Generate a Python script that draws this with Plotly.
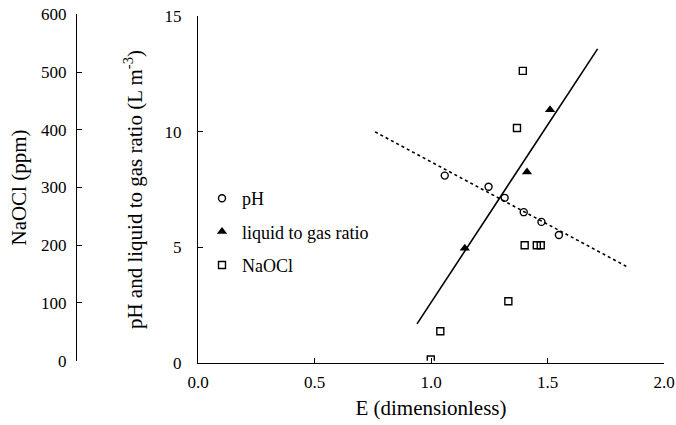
import plotly.graph_objects as go

# pH data
ph_E = [1.059, 1.247, 1.316, 1.398, 1.474, 1.549]
ph_val = [8.10, 7.62, 7.14, 6.52, 6.10, 5.53]

# liquid to gas ratio data
lg_E = [1.145, 1.412, 1.511]
lg_val = [4.96, 8.26, 10.95]

# NaOCl data (ppm)
na_E = [0.999, 1.040, 1.332, 1.394, 1.402, 1.454, 1.471, 1.369]
na_val = [2, 51, 103, 502, 200, 200, 200, 403]

# trend lines
lg_fit_E = [0.94, 1.715]
lg_fit_val = [1.69, 13.58]
ph_fit_E = [0.76, 1.847]
ph_fit_val = [9.99, 4.13]

W, H = 676, 425
FONT = "Liberation Serif, Times New Roman, serif"

fig = go.Figure()

fig.add_trace(go.Scatter(x=ph_fit_E, y=ph_fit_val, mode="lines",
                         line=dict(color="black", width=1.6, dash="dot"),
                         showlegend=False, hoverinfo="skip"))
fig.add_trace(go.Scatter(x=lg_fit_E, y=lg_fit_val, mode="lines",
                         line=dict(color="black", width=1.6),
                         showlegend=False, hoverinfo="skip"))

fig.add_trace(go.Scatter(x=ph_E, y=ph_val, mode="markers", name="pH",
                         legendgroup="a",
                         marker=dict(symbol="circle-open", size=7, color="black",
                                     line=dict(width=1.4, color="black"))))
fig.add_trace(go.Scatter(x=lg_E, y=lg_val, mode="markers", name="liquid to gas ratio",
                         legendgroup="b",
                         marker=dict(symbol="triangle-up", size=9, color="black")))
fig.add_trace(go.Scatter(x=na_E, y=na_val, mode="markers", name="NaOCl",
                         legendgroup="c", xaxis="x", yaxis="y2",
                         marker=dict(symbol="square-open", size=7, color="black",
                                     line=dict(width=1.4, color="black"))))


def axis_common():
    return dict(showline=True, linecolor="black", linewidth=1.4,
                ticks="inside", ticklen=5, tickcolor="black", tickwidth=1.2,
                showgrid=False, zeroline=False, automargin=False,
                tickfont=dict(family=FONT, size=17, color="black"))


fig.update_layout(
    width=W, height=H,
    margin=dict(l=0, r=0, t=0, b=0, autoexpand=False),
    paper_bgcolor="white", plot_bgcolor="rgba(0,0,0,0)",
    font=dict(family=FONT, color="black", size=17),
    xaxis=dict(domain=[198 / W, 664 / W], range=[0, 2],
               tickvals=[0, 0.5, 1.0, 1.5, 2.0], tickformat=".1f",
               ticklabelstandoff=3,
               title=dict(text="E (dimensionless)", font=dict(family=FONT, size=21),
                          standoff=9),
               anchor="y", **axis_common()),
    yaxis=dict(domain=[(H - 363) / H, (H - 16) / H], range=[0, 15],
               tickvals=[0, 5, 10, 15], ticklabelstandoff=12,
               title=dict(text="pH and liquid to gas ratio (L m<sup>-3</sup>)",
                          font=dict(family=FONT, size=21), standoff=16),
               anchor="x", **axis_common()),
    yaxis2=dict(domain=[(H - 360.7) / H, (H - 14.3) / H], range=[0, 600],
                tickvals=[0, 100, 200, 300, 400, 500, 600], ticklabelstandoff=6,
                title=dict(text="NaOCl (ppm)", font=dict(family=FONT, size=21),
                           standoff=7),
                anchor="free", position=76 / W, side="left", **axis_common()),
    legend=dict(x=202 / W, y=(H - 180) / H, xanchor="left", yanchor="top",
                bgcolor="rgba(0,0,0,0)", tracegroupgap=7,
                font=dict(family=FONT, size=18, color="black")),
)

fig.write_html("out.html")
